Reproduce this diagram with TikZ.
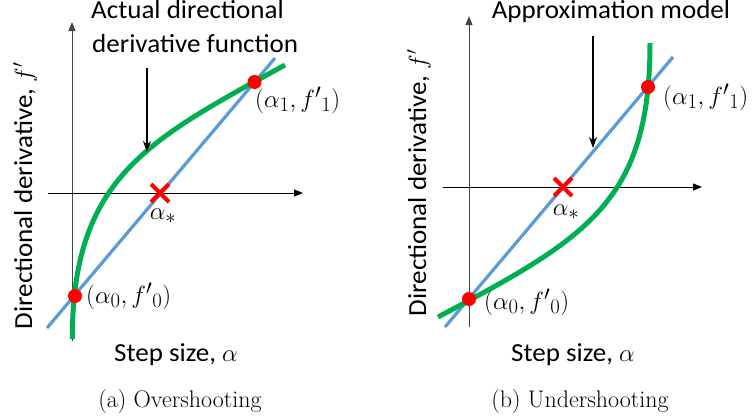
\documentclass[tikz,border=0pt]{standalone}
\usepackage{fontspec}
\newfontfamily\calibri[FakeStretch=1.04]{Carlito}
\usetikzlibrary{arrows.meta}
\definecolor{cgreen}{RGB}{0,176,80}
\definecolor{cblue}{RGB}{91,155,213}
\definecolor{axgray}{RGB}{70,70,70}
\begin{document}
\begin{tikzpicture}[x=1pt,y=-1pt,
  yaxis/.style={draw=axgray, line width=1pt, -{Triangle[length=9pt,width=7pt]}},
  xaxis/.style={draw=black, line width=1pt, -{Triangle[length=9pt,width=7pt]}},
  greencurve/.style={cgreen, line width=5pt},
  blueline/.style={cblue, line width=3.2pt},
  reddot/.style={circle, fill=red, inner sep=0pt, minimum size=14pt},
  xmark/.style={red, line width=4pt},
  lbl/.style={font=\calibri\fontsize{26}{31}\selectfont, inner sep=0pt},
  mlbl/.style={font=\fontsize{27.5}{32}\selectfont, inner sep=0pt},
  caplbl/.style={font=\fontsize{24}{28}\selectfont, inner sep=0pt},
  pointer/.style={line width=1.2pt, -{Stealth[length=11pt,width=8pt]}}
]
\useasboundingbox (0,0) rectangle (756,418);

% ---------- panel (a) ----------
\coordinate (ayb) at (72,341);
\coordinate (ayt) at (72,22);
\coordinate (axl) at (48,193);
\coordinate (axr) at (303,193);
\draw[yaxis] (ayb) -- (ayt);
\draw[xaxis] (axl) -- (axr);
\coordinate (abl0) at (47,328);
\coordinate (abl1) at (275,58);
\draw[blueline] (abl0) -- (abl1);
\coordinate (ag0) at (72.3,339);
\coordinate (ag1) at (285,65);
\draw[greencurve] (ag0) .. controls (72.3,178) and (147.3,140.4) .. (ag1);
\node[reddot] (ap0) at (75,296) {};
\node[reddot] (ap1) at (254.5,82) {};
\coordinate (ax) at (160,193);
\draw[xmark] ([shift={(-9,-9)}]ax) -- ([shift={(9,9)}]ax);
\draw[xmark] ([shift={(-9,9)}]ax) -- ([shift={(9,-9)}]ax);
\node[mlbl] (astar) at (163,216) {$\alpha_*$};
\node[mlbl, anchor=west] (ap1l) at (255,100) {$(\alpha_1,f'{}_1)$};
\node[mlbl, anchor=west] (ap0l) at (86,296) {$(\alpha_0,f'{}_0)$};
\node[lbl, anchor=base west] (at1) at (91,18.5) {Actual directional};
\node[lbl, anchor=base west] (at2) at (92,52) {derivative function};
\coordinate (aps) at (147,68);
\coordinate (ape) at (147,152);
\draw[pointer] (aps) -- (ape);
\node[lbl, rotate=90, anchor=base] (aylab) at (32,196) {Directional derivative, $f'$};
\node[lbl] (axlab) at (176,355) {Step size, $\alpha$};
\node[caplbl] (acap) at (180,402) {(a) Overshooting};

% ---------- panel (b) ----------
\coordinate (byb) at (469,327);
\coordinate (byt) at (469,16);
\coordinate (bxl) at (443,187);
\coordinate (bxr) at (702,187);
\draw[yaxis] (byb) -- (byt);
\draw[xaxis] (bxl) -- (bxr);
\coordinate (bbl0) at (445,327);
\coordinate (bbl1) at (673,57);
\draw[blueline] (bbl0) -- (bbl1);
\coordinate (bg0) at (438,317);
\coordinate (bg1) at (650,43);
\draw[greencurve] (bg0) .. controls (587,238) and (650,202) .. (bg1);
\node[reddot] (bp0) at (469,299) {};
\node[reddot] (bp1) at (648,87) {};
\coordinate (bx) at (563,187);
\draw[xmark] ([shift={(-9,-9)}]bx) -- ([shift={(9,9)}]bx);
\draw[xmark] ([shift={(-9,9)}]bx) -- ([shift={(9,-9)}]bx);
\node[mlbl] (bstar) at (566,212) {$\alpha_*$};
\node[mlbl, anchor=west] (bp1l) at (663,97) {$(\alpha_1,f'{}_1)$};
\node[mlbl, anchor=west] (bp0l) at (484,302) {$(\alpha_0,f'{}_0)$};
\node[lbl, anchor=base] (bt1) at (611,18.5) {Approximation model};
\coordinate (bps) at (593,36);
\coordinate (bpe) at (593,148);
\draw[pointer] (bps) -- (bpe);
\node[lbl, rotate=90, anchor=base] (bylab) at (426,183) {Directional derivative, $f'$};
\node[lbl] (bxlab) at (573,355) {Step size, $\alpha$};
\node[caplbl] (bcap) at (580,402) {(b) Undershooting};
\end{tikzpicture}
\end{document}
